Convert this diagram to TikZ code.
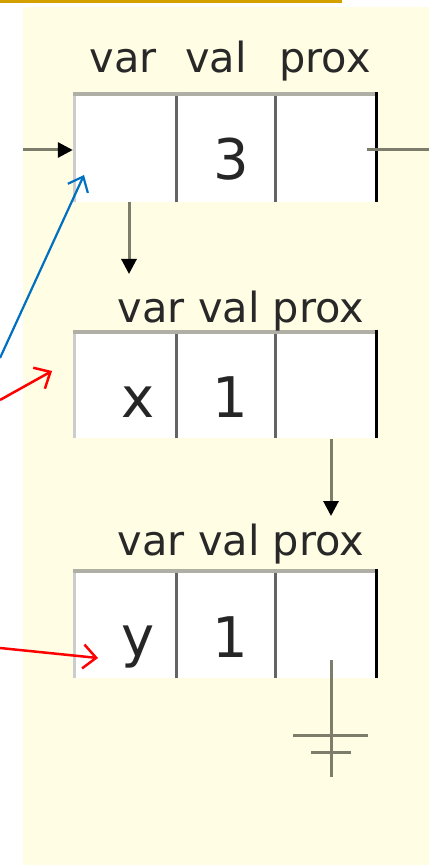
\documentclass[tikz,border=0pt]{standalone}
\usepackage{fontspec}
\setmainfont{DejaVu Sans}
\usetikzlibrary{arrows.meta}
\definecolor{bg}{RGB}{255,253,228}
\definecolor{gold}{RGB}{212,160,0}
\definecolor{linegray}{RGB}{125,125,108}
\definecolor{topgray}{RGB}{175,175,165}
\definecolor{divgray}{RGB}{100,100,100}
\definecolor{leftgray}{RGB}{205,205,205}
\definecolor{arrowblue}{RGB}{0,112,192}
\definecolor{labelgray}{RGB}{40,40,40}
\begin{document}
\begin{tikzpicture}[x=1pt,y=-1pt,
  boxnode/.style={rectangle, fill=white, inner sep=0pt, minimum width=305pt},
  toprule/.style={topgray, line width=4.5pt},
  leftrule/.style={leftgray, line width=3pt},
  divrule/.style={divgray, line width=3pt},
  rightrule/.style={black, line width=3pt},
  lbl/.style={font=\fontsize{41.5}{46}\selectfont, text=labelgray, anchor=base, inner sep=0pt},
  celltext/.style={font=\fontsize{56}{62}\selectfont, text=black!85, anchor=base, inner sep=0pt},
  ptr/.style={linegray, line width=3pt, -{Triangle[length=15pt,width=15pt,color=black]}},
  gnd/.style={linegray, line width=3pt},
  redptr/.style={red, line width=2.5pt, -{Straight Barb[length=13pt,width=24pt]}},
  blueptr/.style={arrowblue, line width=2.2pt, -{Straight Barb[length=13pt,width=22pt]}}
]
\useasboundingbox (0,0) rectangle (429,866);
\fill[white] (0,0) rectangle (429,866);
\fill[bg] (23,7) rectangle (429,865);
\fill[gold] (0,0) rectangle (342,3.5);

% boxes
\node[boxnode, minimum height=110pt] (b1) at (225.5,147) {};
\node[boxnode, minimum height=108pt] (b2) at (225.5,384) {};
\node[boxnode, minimum height=109pt] (b3) at (225.5,623.5) {};

\foreach \b in {b1,b2,b3}{
  \draw[leftrule] ([xshift=1.5pt]\b.north west) -- ([xshift=1.5pt]\b.south west);
  \draw[divrule] ([xshift=104pt]\b.north west) -- ([xshift=104pt]\b.south west);
  \draw[divrule] ([xshift=203pt]\b.north west) -- ([xshift=203pt]\b.south west);
  \draw[rightrule] ([xshift=-2pt]\b.north east) -- ([xshift=-2pt]\b.south east);
  \draw[toprule] ([yshift=-2pt]\b.north west) -- ([yshift=-2pt,xshift=-3pt]\b.north east);
}

% labels
\node[lbl] (l1a) at (123,73) {var};
\node[lbl] (l1b) at (216,73) {val};
\node[lbl] (l1c) at (325,73) {prox};
\node[lbl] (l2) at (241,322) {var val prox};
\node[lbl] (l3) at (241,555) {var val prox};

% cell contents
\node[celltext] (v1) at (231,180) {3};
\node[celltext] (x2) at (138,417) {x};
\node[celltext] (v2) at (230,417) {1};
\node[celltext] (y3) at (138,656) {y};
\node[celltext] (v3) at (230,657) {1};

% pointers
\coordinate (in1) at (23,150);
\draw[ptr] (in1) -- (in1 -| b1.west);
\coordinate (out1a) at (367,150);
\coordinate (out1b) at (429,150);
\draw[gnd] (out1a) -- (out1b);

\coordinate (d1s) at (129,202);
\coordinate (d1e) at (129,274);
\draw[ptr] (d1s) -- (d1e);
\coordinate (d2s) at (331,439);
\coordinate (d2e) at (331,516);
\draw[ptr] (d2s) -- (d2e);

% ground
\coordinate (gs) at (331,660);
\coordinate (ge) at (331,777);
\coordinate (g1a) at (293,735);
\coordinate (g1b) at (368,735);
\coordinate (g2a) at (311,752);
\coordinate (g2b) at (351,752);
\draw[gnd] (gs) -- (ge);
\draw[gnd] (g1a) -- (g1b);
\draw[gnd] (g2a) -- (g2b);

% external pointers
\coordinate (bs) at (0,358);
\coordinate (bt) at (84,175);
\draw[blueptr] (bs) -- (bt);
\coordinate (r1s) at (0,400);
\coordinate (r1t) at (52,371);
\draw[redptr] (r1s) -- (r1t);
\coordinate (r2s) at (0,648);
\coordinate (r2t) at (98,658);
\draw[redptr] (r2s) -- (r2t);
\end{tikzpicture}
\end{document}
